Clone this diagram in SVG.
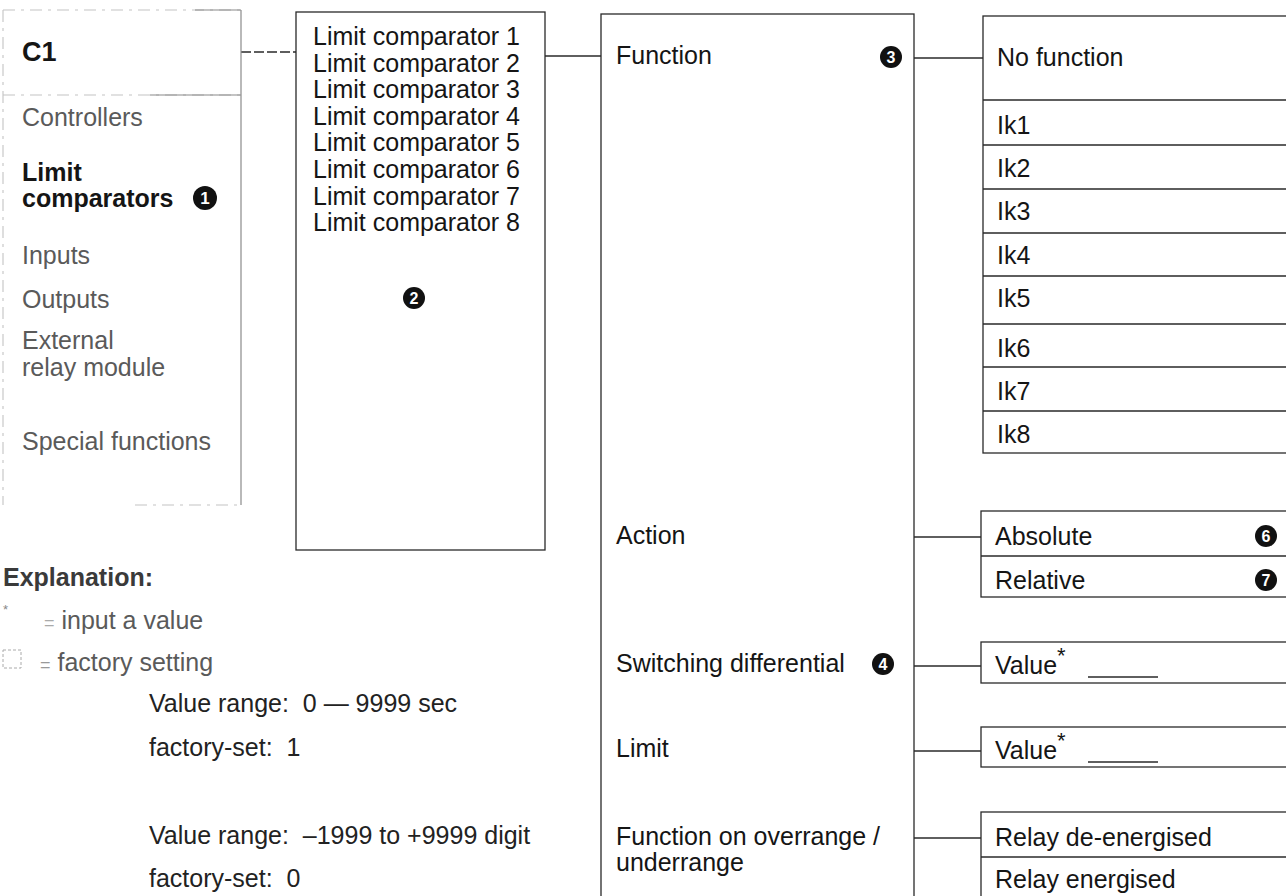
<svg xmlns="http://www.w3.org/2000/svg" width="1286" height="896" viewBox="0 0 1286 896">
<style>
text{font-family:"Liberation Sans",Arial,sans-serif;font-size:25px;fill:#151515}
.g{fill:#5a5a5a}
.b{font-weight:bold}
.box{fill:none;stroke:#2a2a2a;stroke-width:1.3}
.faint{fill:none;stroke:#c4c4c4;stroke-width:1.1;stroke-dasharray:12 6 3 6}
.sep{stroke:#2a2a2a;stroke-width:1.3}
.con{stroke:#2a2a2a;stroke-width:1.5;fill:none}
.bul{fill:#111}
.bt{font-size:16px;font-weight:bold;fill:#fff;text-anchor:middle}
</style>
<rect width="1286" height="896" fill="#fff"/>

<g id="connectors">
<line x1="241" y1="52" x2="296" y2="52" class="con" stroke-dasharray="10 3" stroke="#888" stroke-width="1.2"/>
<line x1="545" y1="56" x2="601" y2="56" class="con"/>
<line x1="914" y1="58" x2="983" y2="58" class="con"/>
<line x1="914" y1="537" x2="981" y2="537" class="con"/>
<line x1="914" y1="666" x2="981" y2="666" class="con"/>
<line x1="914" y1="751" x2="981" y2="751" class="con"/>
<line x1="914" y1="838" x2="981" y2="838" class="con"/>
</g>

<g id="menu-c1">
<path d="M3 10 H241 M3 95 H241 M3 10 V505 M135 505 H241" class="faint"/>
<path d="M195 10 H241 M150 95 H241" stroke="#8a8a8a" stroke-width="1.2" fill="none"/>
<line x1="241" y1="10" x2="241" y2="505" stroke="#8a8a8a" stroke-width="1.2"/>
<text x="22" y="61" class="b" style="font-size:27px">C1</text>
<text x="22" y="126" class="g">Controllers</text>
<text x="22" y="181" class="b">Limit</text>
<text x="22" y="207" class="b">comparators</text>
<circle cx="205" cy="198" r="12" class="bul"/><text x="205" y="204" class="bt" style="font-size:17px">1</text>
<text x="22" y="264" class="g">Inputs</text>
<text x="22" y="308" class="g">Outputs</text>
<text x="22" y="349" class="g">External</text>
<text x="22" y="376" class="g">relay module</text>
<text x="22" y="450" class="g">Special functions</text>
</g>

<g id="limit-comparators">
<rect x="296" y="12" width="249" height="538" class="box"/>
<text x="313" y="45">Limit comparator 1</text>
<text x="313" y="71.6">Limit comparator 2</text>
<text x="313" y="98.2">Limit comparator 3</text>
<text x="313" y="124.8">Limit comparator 4</text>
<text x="313" y="151.4">Limit comparator 5</text>
<text x="313" y="178">Limit comparator 6</text>
<text x="313" y="204.6">Limit comparator 7</text>
<text x="313" y="231.2">Limit comparator 8</text>
<circle cx="414" cy="298" r="11" class="bul"/><text x="414" y="303.5" class="bt">2</text>
</g>

<g id="parameters">
<rect x="601" y="14" width="313" height="900" class="box"/>
<text x="616" y="64">Function</text>
<circle cx="891" cy="57" r="11" class="bul"/><text x="891" y="62.5" class="bt">3</text>
<text x="616" y="544">Action</text>
<text x="616" y="672">Switching differential</text>
<circle cx="883" cy="664" r="11" class="bul"/><text x="883" y="669.5" class="bt">4</text>
<text x="616" y="757">Limit</text>
<text x="616" y="845">Function on overrange /</text>
<text x="616" y="871">underrange</text>
</g>

<g id="function-options">
<rect x="983" y="16" width="320" height="437" class="box"/>
<path d="M983 100 H1300 M983 145 H1300 M983 189 H1300 M983 233 H1300 M983 276 H1300 M983 324 H1300 M983 367 H1300 M983 411 H1300" class="sep"/>
<text x="997" y="66">No function</text>
<text x="997" y="134">Ik1</text>
<text x="997" y="177">Ik2</text>
<text x="997" y="220">Ik3</text>
<text x="997" y="264">Ik4</text>
<text x="997" y="307">Ik5</text>
<text x="997" y="357">Ik6</text>
<text x="997" y="400">Ik7</text>
<text x="997" y="443">Ik8</text>
</g>

<g id="action-options">
<rect x="981" y="511" width="320" height="86" class="box"/>
<line x1="981" y1="556" x2="1300" y2="556" class="sep"/>
<text x="995" y="545">Absolute</text>
<circle cx="1266" cy="536" r="11" class="bul"/><text x="1266" y="541.5" class="bt">6</text>
<text x="995" y="589">Relative</text>
<circle cx="1266" cy="580" r="11" class="bul"/><text x="1266" y="585.5" class="bt">7</text>
</g>

<g id="switching-value">
<rect x="981" y="642" width="320" height="41" class="box"/>
<text x="995" y="674">Value<tspan dy="-11" style="font-size:22px">*</tspan></text>
<line x1="1088" y1="677" x2="1158" y2="677" class="sep"/>
</g>

<g id="limit-value">
<rect x="981" y="727" width="320" height="40" class="box"/>
<text x="995" y="759">Value<tspan dy="-11" style="font-size:22px">*</tspan></text>
<line x1="1088" y1="762" x2="1158" y2="762" class="sep"/>
</g>

<g id="range-options">
<rect x="981" y="812" width="320" height="100" class="box"/>
<line x1="981" y1="857" x2="1300" y2="857" class="sep"/>
<text x="995" y="846">Relay de-energised</text>
<text x="995" y="888">Relay energised</text>
</g>

<g id="explanation">
<text x="3" y="586" class="b" style="fill:#3a3a3a">Explanation:</text>
<text x="3" y="614" style="font-size:13px;fill:#888">*</text>
<text x="44" y="629" class="g"><tspan style="fill:#aaa;font-size:18px">=</tspan> input a value</text>
<rect x="3" y="650" width="18" height="18" fill="none" stroke="#aaa" stroke-width="1" stroke-dasharray="3 2"/>
<text x="40" y="671" class="g"><tspan style="fill:#999;font-size:18px">=</tspan> factory setting</text>
<text x="149" y="712" xml:space="preserve" style="fill:#222">Value range:  0 — 9999 sec</text>
<text x="149" y="756" xml:space="preserve" style="fill:#222">factory-set:  1</text>
<text x="149" y="844" xml:space="preserve" style="fill:#222">Value range:  –1999 to +9999 digit</text>
<text x="149" y="887" xml:space="preserve" style="fill:#222">factory-set:  0</text>
</g>
</svg>
